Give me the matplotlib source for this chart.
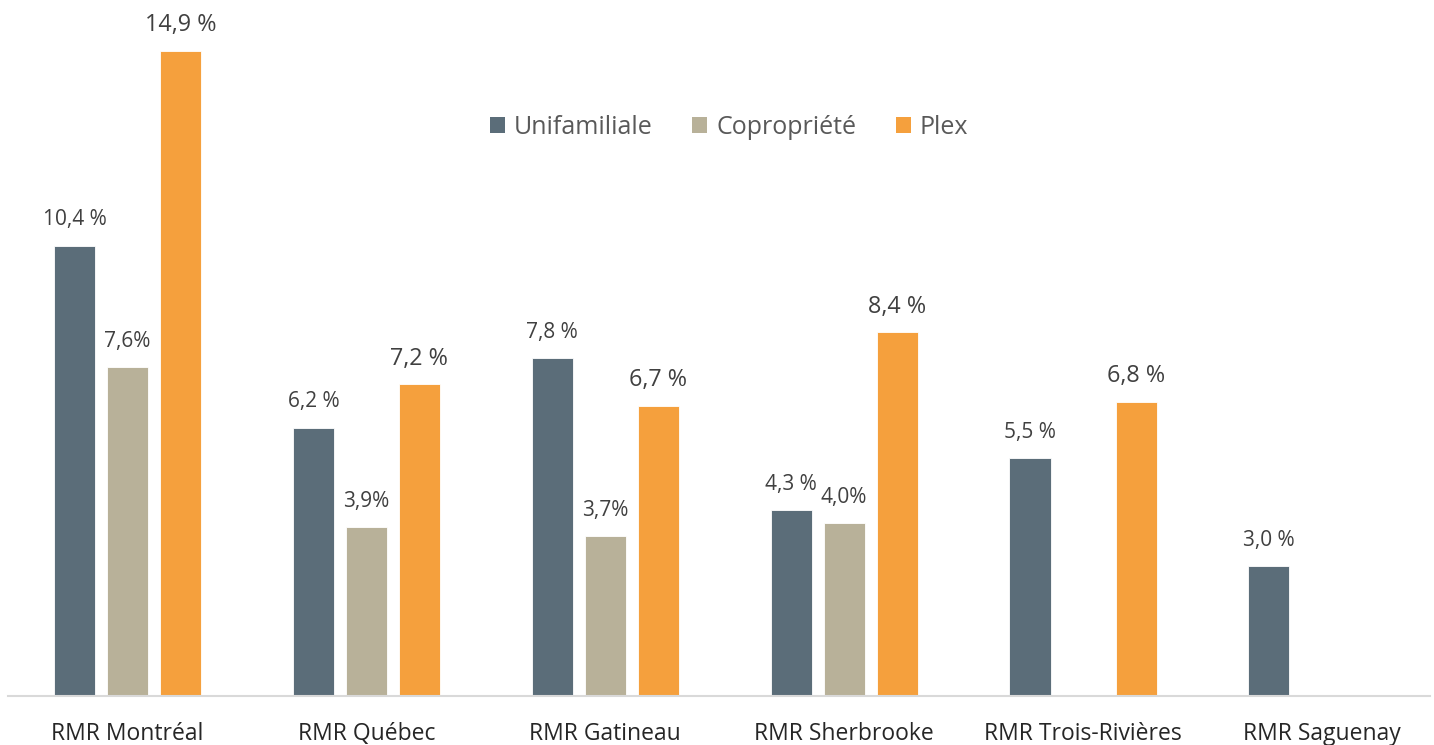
import matplotlib
matplotlib.use("Agg")
import matplotlib.pyplot as plt
import numpy as np
from matplotlib.patches import Patch

categories = ["RMR Montréal", "RMR Québec", "RMR Gatineau", "RMR Sherbrooke",
              "RMR Trois-Rivières", "RMR Saguenay"]
series_names = ["Unifamiliale", "Copropriété", "Plex"]
unifamiliale = [10.4, 6.2, 7.8, 4.3, 5.5, 3.0]
copropriete = [7.6, 3.9, 3.7, 4.0, None, None]
plex = [14.9, 7.2, 6.7, 8.4, 6.8, None]
uni_labels = ["10,4 %", "6,2 %", "7,8 %", "4,3 %", "5,5 %", "3,0 %"]
copro_labels = ["7,6%", "3,9%", "3,7%", "4,0%", None, None]
plex_labels = ["14,9 %", "7,2 %", "6,7 %", "8,4 %", "6,8 %", None]

colors = ["#5B6D79", "#B8B199", "#F5A03D"]
plt.rcParams['font.family'] = ['Open Sans', 'DejaVu Sans']

W, H = 1434, 745
fig = plt.figure(figsize=(W / 100, H / 100), dpi=100)
ax = fig.add_axes([8 / W, (H - 696) / H, 1422 / W, 686 / H])

x = np.arange(len(categories))
catw = 238.9
bw = 0.172
off = 0.222
series = [unifamiliale, copropriete, plex]
labels = [uni_labels, copro_labels, plex_labels]
sizes = [15, 15, 16.8]
for k, (vals, labs) in enumerate(zip(series, labels)):
    for i, (v, lab) in enumerate(zip(vals, labs)):
        if v is None:
            continue
        xi = x[i] + (k - 1) * off
        ax.bar(xi, v, width=bw, color=colors[k], edgecolor='white', linewidth=0.6, zorder=2)
        ax.annotate(lab, (xi, v), xytext=(0, 18.5), textcoords='offset points',
                    ha='center', va='center', fontsize=sizes[k], color='#404040')

ax.set_xlim(-0.5, -0.5 + 1422 / catw)
ax.set_ylim(0, 686 / 43.3)
ax.set_xticks(x)
ax.set_xticklabels(categories, fontsize=16.5, color='#262626')
ax.tick_params(axis='x', length=0, pad=18.5)
ax.set_yticks([])
for s in ['top', 'right', 'left']:
    ax.spines[s].set_visible(False)
ax.spines['bottom'].set_color('#D9D9D9')
ax.spines['bottom'].set_linewidth(1.5)

handles = [Patch(facecolor=c, label=n) for c, n in zip(colors, series_names)]
fig.legend(handles=handles, loc='center', bbox_to_anchor=(729 / W, 1 - 127 / H),
           ncol=3, frameon=False, fontsize=18, labelcolor='#595959',
           handlelength=0.6, handleheight=0.6, handletextpad=0.35, columnspacing=1.6)

fig.savefig("out.png", dpi=100)
